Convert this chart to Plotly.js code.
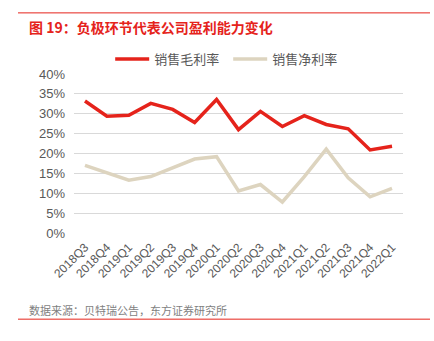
<!DOCTYPE html>
<html>
<head>
<meta charset="utf-8">
<script src="https://cdn.plot.ly/plotly-3.0.1.min.js"></script>
<style>html,body{margin:0;padding:0;background:#fff;}#chart{width:434px;height:341px;}</style>
</head>
<body>
<div id="chart"></div>
<script>
var quarters = ["2018Q3","2018Q4","2019Q1","2019Q2","2019Q3","2019Q4","2020Q1","2020Q2","2020Q3","2020Q4","2021Q1","2021Q2","2021Q3","2021Q4","2022Q1"];
var grossMargin = [33.2, 29.4, 29.6, 32.6, 31.1, 27.8, 33.6, 26.0, 30.6, 26.8, 29.5, 27.3, 26.2, 20.9, 21.8];
var netMargin = [17.0, 15.2, 13.3, 14.2, 16.3, 18.6, 19.2, 10.6, 12.2, 7.8, 14.2, 21.1, 13.9, 9.1, 11.2];
var yTickVals = [0, 5, 10, 15, 20, 25, 30, 35, 40];
var yTickText = ["0%","5%","10%","15%","20%","25%","30%","35%","40%"];
var seriesNames = ["销售毛利率", "销售净利率"];
var titleText = "图 19：负极环节代表公司盈利能力变化";
var sourceText = "数据来源：贝特瑞公告，东方证券研究所";

var fontFam = "Liberation Sans, Noto Sans CJK SC, sans-serif";
var cjkFam = "Noto Sans CJK SC, sans-serif";

var traces = [
  {x: quarters, y: grossMargin, name: seriesNames[0], type: "scatter", mode: "lines",
   line: {color: "#e5231b", width: 3.5}},
  {x: quarters, y: netMargin, name: seriesNames[1], type: "scatter", mode: "lines",
   line: {color: "#ddd4bf", width: 3.5}}
];

var layout = {
  width: 434, height: 341,
  margin: {l: 74, r: 31, t: 74, b: 108},
  paper_bgcolor: "#fff", plot_bgcolor: "#fff",
  font: {family: fontFam, color: "#595959", size: 12},
  showlegend: true,
  legend: {orientation: "h", x: 0.11, y: 1.0, xanchor: "left", yanchor: "bottom",
           font: {family: cjkFam, size: 13, color: "#595959"}, bgcolor: "rgba(0,0,0,0)",
           itemwidth: 34, entrywidth: 69, entrywidthmode: "pixels", tracegroupgap: 0},
  xaxis: {type: "category", range: [-0.5, 14.5], tickangle: -45, showgrid: false,
          showline: false, ticks: "", zeroline: false, ticklabelstandoff: 4,
          tickfont: {family: fontFam, size: 12, color: "#595959"}},
  yaxis: {range: [0, 40], tickvals: yTickVals, ticktext: yTickText, showgrid: true,
          gridcolor: "#d9d9d9", gridwidth: 1, zeroline: false, showline: false, ticks: "",
          ticklabelstandoff: 8,
          tickfont: {family: fontFam, size: 13, color: "#595959"}},
  shapes: [
    {type: "line", xref: "paper", yref: "paper", x0: -56/329, x1: 356/329, y0: 1 + 61/158.7, y1: 1 + 61/158.7,
     line: {color: "#e5231b", width: 1}},
    {type: "line", xref: "paper", yref: "paper", x0: -56/329, x1: 356/329, y0: -86/158.7, y1: -86/158.7,
     line: {color: "#e5231b", width: 1}}
  ],
  annotations: [
    {text: "<b>" + titleText + "</b>", xref: "paper", yref: "paper", x: -47/329, y: 1 + 47/158.7,
     xanchor: "left", yanchor: "middle", showarrow: false,
     font: {family: cjkFam, size: 14, color: "#e5231b"}},
    {text: sourceText, xref: "paper", yref: "paper", x: -47/329, y: -77/158.7,
     xanchor: "left", yanchor: "middle", showarrow: false,
     font: {family: cjkFam, size: 11, color: "#7f7f7f"}}
  ]
};

Plotly.newPlot("chart", traces, layout, {staticPlot: true, displayModeBar: false});
</script>
</body>
</html>
